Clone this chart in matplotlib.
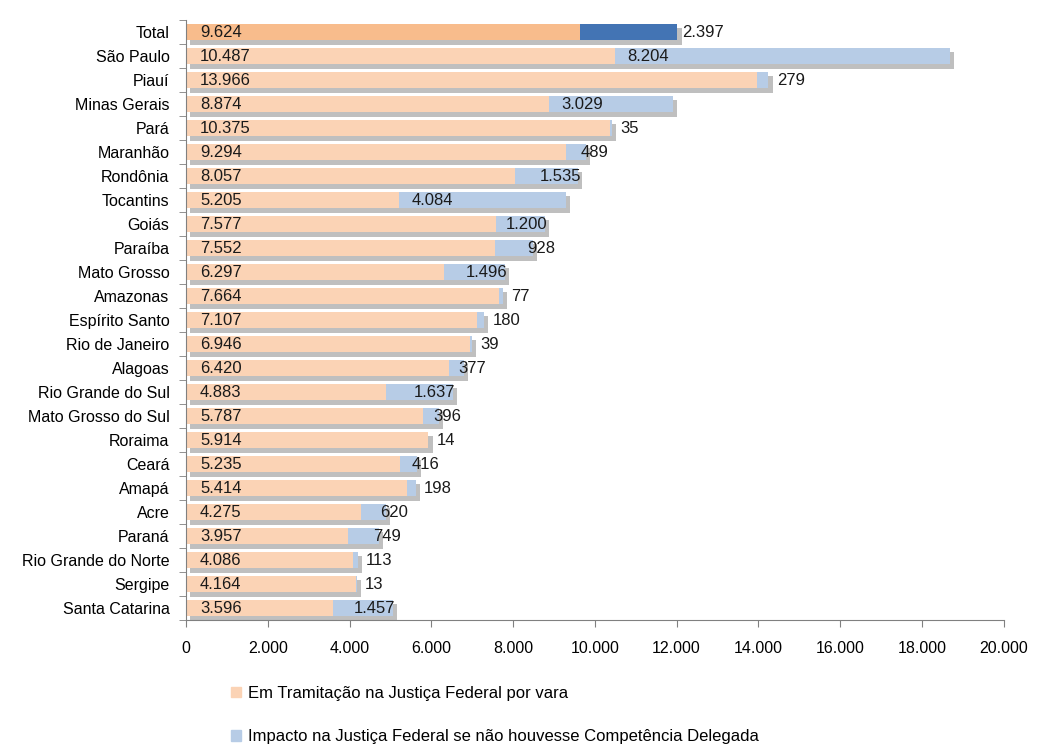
import matplotlib
matplotlib.use("Agg")
from matplotlib import pyplot as plt
from matplotlib import patheffects as pe
from matplotlib.ticker import FuncFormatter
from matplotlib.patches import Patch

plt.rcParams['font.family'] = ['Liberation Sans', 'DejaVu Sans']

estados = ["Total", "São Paulo", "Piauí", "Minas Gerais", "Pará", "Maranhão",
           "Rondônia", "Tocantins", "Goiás", "Paraíba", "Mato Grosso", "Amazonas",
           "Espírito Santo", "Rio de Janeiro", "Alagoas", "Rio Grande do Sul",
           "Mato Grosso do Sul", "Roraima", "Ceará", "Amapá", "Acre", "Paraná",
           "Rio Grande do Norte", "Sergipe", "Santa Catarina"]
tramitacao = [9624, 10487, 13966, 8874, 10375, 9294, 8057, 5205, 7577, 7552, 6297,
              7664, 7107, 6946, 6420, 4883, 5787, 5914, 5235, 5414, 4275, 3957,
              4086, 4164, 3596]
impacto = [2397, 8204, 279, 3029, 35, 489, 1535, 4084, 1200, 928, 1496, 77, 180,
           39, 377, 1637, 396, 14, 416, 198, 620, 749, 113, 13, 1457]

serie1 = "Em Tramitação na Justiça Federal por vara"
serie2 = "Impacto na Justiça Federal se não houvesse Competência Delegada"


def fmt_br(v):
    return f"{v:,.0f}".replace(",", ".")


fig = plt.figure(figsize=(10.4, 7.49), dpi=100)
ax = fig.add_axes([0.179, 0.172, 0.786, 0.801])

y = list(range(len(estados)))
cor1 = ["#F8BC8C"] + ["#FBD3B5"] * (len(estados) - 1)
cor2 = ["#4374B4"] + ["#B7CCE6"] * (len(estados) - 1)
sombra = [pe.SimplePatchShadow(offset=(3, -3), shadow_rgbFace="#8c8c8c", alpha=0.55),
          pe.Normal()]

ax.barh(y, tramitacao, height=0.68, color=cor1, path_effects=sombra, zorder=2)
ax.barh(y, impacto, left=tramitacao, height=0.68, color=cor2,
        path_effects=sombra, zorder=3)

fs = 12
for i, (a, b) in enumerate(zip(tramitacao, impacto)):
    ax.annotate(fmt_br(a), (0, i), xytext=(10, 0), textcoords="offset points",
                va="center", ha="left", fontsize=fs, color="#1a1a1a", zorder=5)
    # rótulo da segunda série: posição conforme o tamanho do segmento
    if i == 0:
        pos, dx, ha = a + b, 3, "left"
    elif b >= 2000:
        pos, dx, ha = a, 9, "left"
    elif b >= 1000:
        pos, dx, ha = a + b, 2, "right"
    elif b >= 300:
        pos, dx, ha = a + b, 6, "center"
    else:
        pos, dx, ha = a + b, 6, "left"
    ax.annotate(fmt_br(b), (pos, i), xytext=(dx, 0), textcoords="offset points",
                va="center", ha=ha, fontsize=fs, color="#1a1a1a", zorder=5)

ax.set_ylim(len(estados) - 0.5, -0.5)
ax.set_xlim(0, 20000)
ax.set_xticks(range(0, 20001, 2000))
ax.xaxis.set_major_formatter(FuncFormatter(lambda v, p: fmt_br(v)))
ax.set_yticks(y)
ax.set_yticklabels(estados)
ax.set_yticks([k + 0.5 for k in range(-1, len(estados))], minor=True)
ax.tick_params(axis="y", which="major", length=0, pad=12, labelsize=11.5)
ax.tick_params(axis="y", which="minor", length=5, color="#808080")
ax.tick_params(axis="x", length=5, color="#808080", pad=10, labelsize=11.5)

for s in ["top", "right"]:
    ax.spines[s].set_visible(False)
for s in ["left", "bottom"]:
    ax.spines[s].set_color("#808080")

handles = [Patch(color="#FBD3B5", label=serie1), Patch(color="#B7CCE6", label=serie2)]
fig.legend(handles=handles, loc="upper left", bbox_to_anchor=(0.216, 0.093),
           frameon=False, fontsize=12, handlelength=0.6, handleheight=0.6,
           handletextpad=0.4, labelspacing=1.7, borderaxespad=0)

plt.savefig("out.png", dpi=100, facecolor="white")
